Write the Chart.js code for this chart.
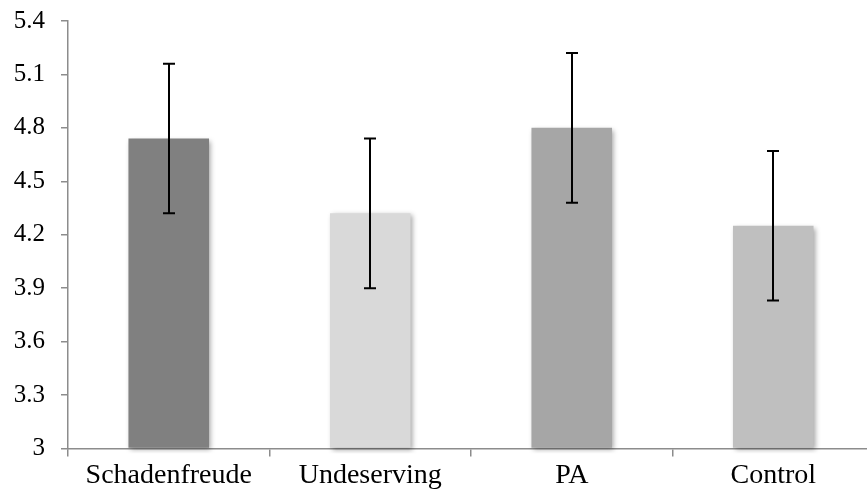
<!DOCTYPE html>
<html>
<head>
<meta charset="utf-8">
<script src="https://cdn.jsdelivr.net/npm/chart.js@4.4.1/dist/chart.umd.min.js"></script>
<style>
  html, body { margin: 0; padding: 0; background: #fff; overflow: hidden; }
  #wrap { position: relative; width: 874px; height: 516px; margin-top: -10px; }
</style>
</head>
<body>
<div id="wrap"><canvas id="chart"></canvas></div>
<script>
// Group means with their error margins
const categories = ['Schadenfreude', 'Undeserving', 'PA', 'Control'];
const means = [4.74, 4.32, 4.80, 4.25];
const errors = [0.42, 0.42, 0.42, 0.42];
const barColors = ['#808080', '#d9d9d9', '#a6a6a6', '#bfbfbf'];
const yTicks = [3, 3.3, 3.6, 3.9, 4.2, 4.5, 4.8, 5.1, 5.4];

// Soft drop shadow under the bars
const barShadow = {
  id: 'barShadow',
  beforeDatasetsDraw(chart) {
    const ctx = chart.ctx;
    ctx.save();
    ctx.shadowColor = 'rgba(0,0,0,0.35)';
    ctx.shadowBlur = 5;
    ctx.shadowOffsetX = 2;
    ctx.shadowOffsetY = 2;
  },
  afterDatasetsDraw(chart) {
    chart.ctx.restore();
  }
};

// Error bars with caps, placed through the chart's scales
const errorBars = {
  id: 'errorBars',
  afterDatasetsDraw(chart) {
    const ctx = chart.ctx;
    const xs = chart.scales.x, ys = chart.scales.y;
    ctx.save();
    ctx.strokeStyle = '#000';
    ctx.lineWidth = 2;
    const cap = 6;
    means.forEach((m, i) => {
      const x = Math.round(xs.getPixelForValue(i));
      const top = ys.getPixelForValue(m + errors[i]);
      const bot = ys.getPixelForValue(m - errors[i]);
      ctx.beginPath();
      ctx.moveTo(x, top); ctx.lineTo(x, bot);
      ctx.moveTo(x - cap, top); ctx.lineTo(x + cap, top);
      ctx.moveTo(x - cap, bot); ctx.lineTo(x + cap, bot);
      ctx.stroke();
    });
    ctx.restore();
  }
};

new Chart(document.getElementById('chart'), {
  type: 'bar',
  data: {
    labels: categories,
    datasets: [{
      data: means,
      base: 3,
      backgroundColor: barColors,
      borderWidth: 0,
      categoryPercentage: 1,
      barPercentage: 0.4,
      clip: { left: 0, top: 0, right: 10, bottom: 5 }
    }]
  },
  options: {
    responsive: true,
    maintainAspectRatio: false,
    animation: false,
    layout: { padding: { top: 0, right: 0, left: 0, bottom: 12 } },
    plugins: { legend: { display: false }, tooltip: { enabled: false } },
    scales: {
      x: {
        offset: true,
        grid: {
          offset: true,
          drawOnChartArea: false,
          drawTicks: true,
          tickLength: 8,
          color: '#8c8c8c',
          lineWidth: 1.5
        },
        border: { color: '#8c8c8c', width: 1.5 },
        ticks: {
          color: '#000',
          padding: 2,
          font: { family: '"Liberation Serif", "Times New Roman", serif', size: 28 }
        }
      },
      y: {
        min: 3,
        max: 5.4,
        afterFit(scale) { scale.width = 68; },
        afterBuildTicks(scale) { scale.ticks = yTicks.map(v => ({ value: v })); },
        grid: {
          drawOnChartArea: false,
          drawTicks: true,
          tickLength: 7,
          color: '#8c8c8c',
          lineWidth: 1.5
        },
        border: { color: '#8c8c8c', width: 1.5 },
        ticks: {
          color: '#000',
          padding: 16,
          callback: v => String(Math.round(v * 10) / 10),
          font: { family: '"Liberation Serif", "Times New Roman", serif', size: 25 }
        }
      }
    }
  },
  plugins: [barShadow, errorBars]
});
</script>
</body>
</html>
